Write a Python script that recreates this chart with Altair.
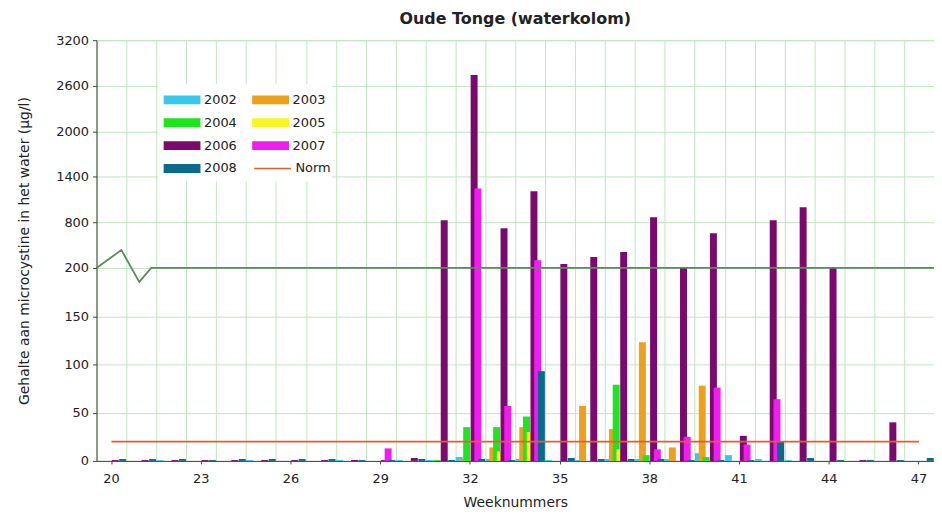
import altair as alt
import pandas as pd

# ---------------- data ----------------
weeks = list(range(20, 48))
series_names = ["2002", "2003", "2004", "2005", "2006", "2007", "2008"]
series_colors = ["#38c8ec", "#eca01c", "#1ee61e", "#f6f622", "#7a0a6e", "#f01cf0", "#0a6a8a"]
# legend fills column by column: this order gives rows 2002|2003, 2004|2005, 2006|2007, 2008|Norm
legend_order = ["2002", "2004", "2006", "2008", "2003", "2005", "2007"]
norm_name = "Norm"
norm_color = "#e0602a"
norm_value = 20

v2002 = [0, 0, 1, 0, 0, 1, 0, 0, 1, 0, 1, 1, 4, 2, 2, 1, 1, 2, 2, 2, 8, 6, 2, 1, 0, 0, 0, 0]
v2003 = [0, 0, 0, 0, 0, 0, 0, 0, 0, 0, 0, 0, 2, 14, 35, 0, 57, 33, 123, 14, 78, 0, 0, 0, 0, 0, 0, 0]
v2004 = [0, 0, 0, 0, 0, 0, 0, 0, 0, 0, 0, 1, 35, 35, 46, 0, 0, 79, 6, 0, 4, 0, 0, 0, 0, 0, 0, 0]
v2005 = [0, 0, 0, 0, 0, 0, 0, 0, 0, 0, 0, 0, 0, 10, 30, 0, 0, 12, 0, 0, 0, 0, 0, 0, 0, 0, 0, 0]
v2006 = [1, 1, 1, 1, 1, 1, 1, 1, 1, 1, 3, 830, 2740, 724, 1209, 252, 344, 410, 868, 213, 658, 26, 829, 1000, 205, 1, 40, 0]
v2007 = [0, 0, 0, 0, 0, 0, 0, 0, 0, 13, 0, 0, 1248, 57, 300, 0, 0, 0, 12, 25, 76, 17, 64, 0, 0, 0, 0, 0]
v2008 = [2, 2, 2, 1, 2, 2, 2, 2, 1, 1, 2, 1, 2, 1, 93, 3, 2, 2, 2, 1, 1, 1, 20, 3, 1, 1, 1, 3]
series_values = [v2002, v2003, v2004, v2005, v2006, v2007, v2008]

x_tick_labels = [20, 23, 26, 29, 32, 35, 38, 41, 44, 47]
y_tick_labels = [0, 50, 100, 150, 200, 800, 1400, 2000, 2600, 3200]

# broken axis: 0-200 linear, 200-3200 compressed
BREAK = 200
K = 0.0787


def to_disp(v):
    return v if v <= BREAK else BREAK + (v - BREAK) * K


y_tick_pos = [to_disp(v) for v in y_tick_labels]
y_max = to_disp(max(y_tick_labels))

# axis-break zigzag + line at 200 (x in week units, y in display units)
break_x = [19.5, 20.33, 20.93, 21.33, 47.5]
break_y = [200, 218.6, 185.6, 200, 200]
grid_x = [w - 0.5 for w in weeks] + [weeks[-1] + 0.5]

rows = []
for name, vals in zip(series_names, series_values):
    for w, v in zip(weeks, vals):
        rows.append({"week": w, "series": name, "value": v})
bars_df = pd.DataFrame(rows)
norm_df = pd.DataFrame({"week": weeks, "line": norm_name, "value": [norm_value] * len(weeks)})
break_df = pd.DataFrame({"bx": break_x, "by": break_y})

FONT = "DejaVu Sans"
TXT = "#222222"
GRID = "#bde6bd"
AXIS = "#3a4a3a"

disp_expr = f"datum.value <= {BREAK} ? datum.value : {BREAK} + (datum.value - {BREAK}) * {K}"
label_expr = (
    f"datum.value <= {BREAK + 0.5} ? format(datum.value, 'd') : "
    f"format(round(({BREAK} + (datum.value - {BREAK}) / {K}) / 100) * 100, 'd')"
)

y_axis = alt.Axis(
    values=y_tick_pos, labelExpr=label_expr,
    title="Gehalte aan microcystine in het water (µg/l)",
    grid=True, gridColor=GRID, gridWidth=1,
    domainColor=AXIS, tickColor=AXIS, tickSize=4,
    labelFont=FONT, labelFontSize=13, labelColor=TXT, labelPadding=4,
    titleFont=FONT, titleFontSize=14, titleFontWeight="normal", titleColor=TXT, titlePadding=24,
)
y_scale = alt.Scale(domain=[0, y_max], nice=False, zero=True)

x_scale = alt.Scale(domain=weeks, paddingInner=0, paddingOuter=0)
x_axis = alt.Axis(
    values=x_tick_labels, labelAngle=0, title="Weeknummers", grid=False,
    domainColor=AXIS, tickColor=AXIS, tickSize=3,
    labelFont=FONT, labelFontSize=13, labelColor=TXT, labelPadding=9,
    titleFont=FONT, titleFontSize=14, titleFontWeight="normal", titleColor=TXT, titlePadding=10,
)

rect_path = "M-1.85,-0.45H1.85V0.45H-1.85Z"
line_path = "M-1.85,0H1.85"

bar_legend = alt.Legend(
    title=None, orient="none", legendX=62, legendY=44, columns=2,
    fillColor="white", padding=6, columnPadding=14, rowPadding=6,
    symbolType=rect_path, symbolSize=400, symbolOffset=8, symbolStrokeWidth=0,
    labelOffset=12, labelFont=FONT, labelFontSize=13, labelColor=TXT,
)
norm_legend = alt.Legend(
    title=None, orient="none", legendX=158, legendY=118, padding=0,
    symbolType=line_path, symbolSize=400, symbolOffset=8, symbolStrokeWidth=1.5,
    labelOffset=12, labelFont=FONT, labelFontSize=13, labelColor=TXT,
)

legend_colors = [series_colors[series_names.index(s)] for s in legend_order]

bars = (
    alt.Chart(bars_df)
    .transform_calculate(disp=disp_expr)
    .mark_bar(width=7, xOffset=1.5)
    .encode(
        x=alt.X("week:O", scale=x_scale, axis=x_axis),
        xOffset=alt.XOffset("series:N", sort=series_names,
                            scale=alt.Scale(paddingInner=0, paddingOuter=0.51)),
        y=alt.Y("disp:Q", scale=y_scale, axis=y_axis),
        color=alt.Color("series:N", scale=alt.Scale(domain=legend_order, range=legend_colors),
                        legend=bar_legend),
    )
)

norm = (
    alt.Chart(norm_df)
    .transform_calculate(disp=disp_expr)
    .mark_line(strokeWidth=1.6)
    .encode(
        x=alt.X("week:O", scale=x_scale, axis=x_axis),
        y=alt.Y("disp:Q", scale=y_scale, axis=y_axis),
        stroke=alt.Stroke("line:N", scale=alt.Scale(domain=[norm_name], range=[norm_color]), legend=norm_legend),
    )
)

break_line = (
    alt.Chart(break_df)
    .mark_line(color="#5d8a5d", strokeWidth=1.8)
    .encode(
        x=alt.X("bx:Q", scale=alt.Scale(domain=[weeks[0] - 0.5, weeks[-1] + 0.5], nice=False, zero=False),
                axis=alt.Axis(orient="top", values=grid_x, labels=False, ticks=False, domain=False,
                              grid=True, gridColor=GRID, title=None)),
        y=alt.Y("by:Q", scale=y_scale, axis=y_axis),
        order=alt.Order("bx:Q"),
    )
)

chart = (
    alt.layer(alt.layer(bars, norm), break_line)
    .resolve_scale(x="independent")
    .properties(
        width=842, height=423,
        title=alt.Title("Oude Tonge (waterkolom)", font=FONT, fontSize=16, fontWeight="bold",
                        color=TXT, offset=7, anchor="middle"),
        autosize=alt.AutoSizeParams(type="none"),
        padding={"left": 89, "top": 31, "right": 0, "bottom": 50},
    )
    .configure_view(fill="#ccf6cc", stroke=AXIS, strokeWidth=1)
    .configure(background="white")
)

chart.save("out.html", embed_options={"renderer": "svg", "actions": False})
